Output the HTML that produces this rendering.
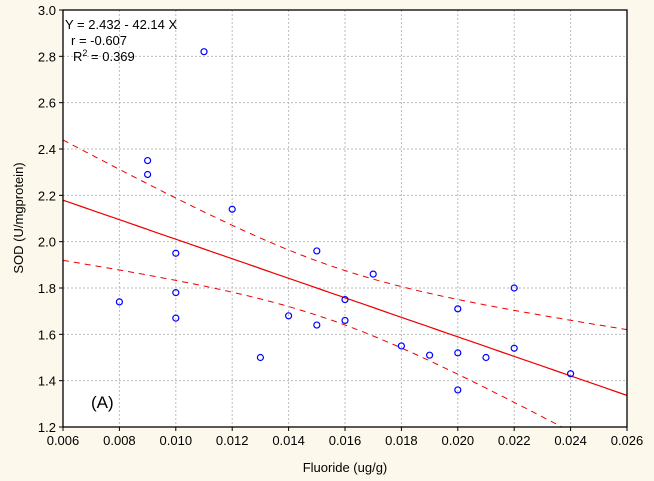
<!DOCTYPE html>
<html><head><meta charset="utf-8"><style>
html,body{margin:0;padding:0;background:#fdf8ec;}
svg{display:block;font-family:"Liberation Sans",Arial,sans-serif;}
</style></head><body>
<svg id="chart" width="654" height="481"></svg>
<script>
const xs = [0.008,0.009,0.009,0.011,0.010,0.010,0.010,0.012,0.013,0.014,0.015,0.015,0.016,0.016,0.017,0.018,0.019,0.020,0.020,0.020,0.021,0.022,0.022,0.024];
const ys = [1.74,2.35,2.29,2.82,1.95,1.78,1.67,2.14,1.50,1.68,1.96,1.64,1.75,1.66,1.86,1.55,1.51,1.71,1.52,1.36,1.50,1.80,1.54,1.43];
const xTicks = [0.006,0.008,0.010,0.012,0.014,0.016,0.018,0.020,0.022,0.024,0.026];
const yTicks = [1.2,1.4,1.6,1.8,2.0,2.2,2.4,2.6,2.8,3.0];
const intercept = 2.432, slope = -42.14;

const NS="http://www.w3.org/2000/svg";
const svg=document.getElementById('chart');
const L=63,R=627,T=10,B=427;
const xMin=0.006,xMax=0.026,yMin=1.2,yMax=3.0;
const sx=v=>L+(v-xMin)/(xMax-xMin)*(R-L);
const sy=v=>B-(v-yMin)/(yMax-yMin)*(B-T);
function mk(tag,attrs,parent){const e=document.createElementNS(NS,tag);for(const k in attrs)e.setAttribute(k,attrs[k]);(parent||svg).appendChild(e);return e;}

const defs=mk('defs',{});
const cp=mk('clipPath',{id:'clip'},defs);mk('rect',{x:L,y:T,width:R-L,height:B-T},cp);
const plotBg=mk('rect',{x:L,y:T,width:R-L,height:B-T,fill:'#fff'});



xTicks.forEach((t,i)=>{
  const x=sx(t);
  if(i>0&&i<xTicks.length-1){const g=mk('line',{x1:x,x2:x,y1:T,y2:B,stroke:'#bbb','stroke-dasharray':'2,2'});
  
  }
  mk('line',{x1:x,x2:x,y1:B,y2:B+4,stroke:'#000'});
  const lb=mk('text',{x:x,y:B+18,'text-anchor':'middle','font-size':'13',fill:'#000'});lb.textContent=t.toFixed(3);
  
  
});
yTicks.forEach((t,i)=>{
  const y=sy(t);
  if(i>0&&i<yTicks.length-1){const g=mk('line',{x1:L,x2:R,y1:y,y2:y,stroke:'#bbb','stroke-dasharray':'2,2'});
  
  }
  mk('line',{x1:L-4,x2:L,y1:y,y2:y,stroke:'#000'});
  const lb=mk('text',{x:L-7,y:y+5,'text-anchor':'end','font-size':'13',fill:'#000'});lb.textContent=t.toFixed(1);
  
  
});

// confidence band
const n=xs.length;
const xbar=xs.reduce((a,b)=>a+b,0)/n;
const Sxx=xs.reduce((a,b)=>a+(b-xbar)**2,0);
const sse=xs.reduce((a,x,i)=>a+(ys[i]-(intercept+slope*x))**2,0);
const s=Math.sqrt(sse/(n-2));const tval=2.08;
const fit=x=>intercept+slope*x;
const half=x=>tval*s*Math.sqrt(1/n+(x-xbar)**2/Sxx);
function pathFor(f){let d='';for(let k=0;k<=100;k++){const x=xMin+(xMax-xMin)*k/100;d+=(k?'L':'M')+sx(x).toFixed(1)+','+sy(f(x)).toFixed(1);}return d;}
const g=mk('g',{'clip-path':'url(#clip)'});
const fl=mk('path',{d:pathFor(fit),stroke:'#e00',fill:'none','stroke-width':'1.2'},g);


const up=mk('path',{d:pathFor(x=>fit(x)+half(x)),stroke:'#e00',fill:'none','stroke-width':'1','stroke-dasharray':'6,5'},g);


const lo=mk('path',{d:pathFor(x=>fit(x)-half(x)),stroke:'#e00',fill:'none','stroke-width':'1','stroke-dasharray':'6,5'},g);



xs.forEach((x,i)=>{
  const c=mk('circle',{cx:sx(x),cy:sy(ys[i]),r:3,fill:'none',stroke:'#00f','stroke-width':'1.2'});
  
  
});

const fr=mk('rect',{x:L,y:T,width:R-L,height:B-T,fill:'none',stroke:'#000','stroke-width':'1.3'});


</script>
<svg style="position:absolute;left:0;top:0" width="654" height="481">
<text x="65" y="29" font-size="13" font-family="Liberation Sans,sans-serif">Y = 2.432 - 42.14 X</text>
<text x="71" y="45" font-size="13" font-family="Liberation Sans,sans-serif">r = -0.607</text>
<text x="73" y="61" font-size="13" font-family="Liberation Sans,sans-serif">R<tspan dy="-5" font-size="9">2</tspan><tspan dy="5"> = 0.369</tspan></text>
<text x="91" y="408" font-size="17" font-family="Liberation Sans,sans-serif">(A)</text>
<text x="345" y="472" font-size="13" text-anchor="middle" font-family="Liberation Sans,sans-serif">Fluoride (ug/g)</text>
<text transform="translate(23,218) rotate(-90)" font-size="13" text-anchor="middle" font-family="Liberation Sans,sans-serif">SOD (U/mgprotein)</text>
</svg>
</body></html>
